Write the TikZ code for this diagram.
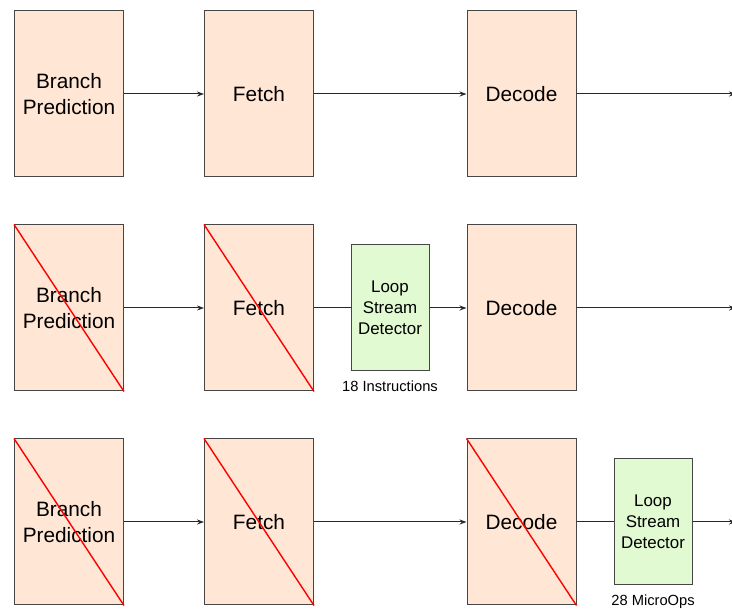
\documentclass[tikz,border=0pt]{standalone}
\usepackage{fontspec}
\setmainfont{Liberation Sans}
\usetikzlibrary{arrows.meta}
\definecolor{peach}{RGB}{255,230,213}
\definecolor{mint}{RGB}{225,250,210}
\definecolor{edgegray}{RGB}{70,70,70}
\definecolor{wiregray}{RGB}{40,40,40}
\begin{document}
\begin{tikzpicture}[x=1pt,y=-1pt,
  stage/.style={draw=edgegray, fill=peach, line width=1pt, minimum width=109pt,
    minimum height=166pt, inner sep=0pt, align=center,
    font=\fontsize{20.8}{26.7}\selectfont},
  lsd/.style={draw=edgegray, fill=mint, line width=1pt, minimum width=78pt,
    minimum height=126pt, inner sep=0pt, align=center,
    font=\fontsize{16.9}{21}\selectfont},
  caption/.style={font=\fontsize{14.7}{17}\selectfont, inner sep=0pt},
  flow/.style={-{Stealth[length=7pt,width=5pt]}, line width=1pt, draw=wiregray},
  link/.style={line width=1pt, draw=wiregray},
  crossout/.style={red, line width=1.4pt}]
\useasboundingbox (0,0) rectangle (732,609);

% Row 1: plain front end
\node[stage] (b1) at (69,94) {Branch\\Prediction};
\node[stage] (f1) at (259,94) {Fetch};
\node[stage] (d1) at (521.5,94) {Decode};
\coordinate (e1) at (736,94);
\draw[flow] (b1) -- (f1);
\draw[flow] (f1) -- (d1);
\draw[flow] (d1) -- (e1);

% Row 2: loop stream detector before decode
\node[stage] (b2) at (69,308) {Branch\\Prediction};
\node[stage] (f2) at (259,308) {Fetch};
\node[lsd] (l2) at (390,308) {Loop\\Stream\\Detector};
\node[stage] (d2) at (521.5,308) {Decode};
\node[caption] (c2) at (390,386.5) {18 Instructions};
\coordinate (e2) at (736,308);
\draw[flow] (b2) -- (f2);
\draw[link] (f2) -- (l2);
\draw[flow] (l2) -- (d2);
\draw[flow] (d2) -- (e2);
\draw[crossout] (b2.north west) -- (b2.south east);
\draw[crossout] (f2.north west) -- (f2.south east);

% Row 3: loop stream detector after decode
\node[stage] (b3) at (69,522) {Branch\\Prediction};
\node[stage] (f3) at (259,522) {Fetch};
\node[stage] (d3) at (521.5,522) {Decode};
\node[lsd] (l3) at (653,522) {Loop\\Stream\\Detector};
\node[caption] (c3) at (653,601.5) {28 MicroOps};
\coordinate (e3) at (736,522);
\draw[flow] (b3) -- (f3);
\draw[flow] (f3) -- (d3);
\draw[link] (d3) -- (l3);
\draw[flow] (l3) -- (e3);
\draw[crossout] (b3.north west) -- (b3.south east);
\draw[crossout] (f3.north west) -- (f3.south east);
\draw[crossout] (d3.north west) -- (d3.south east);
\end{tikzpicture}
\end{document}
